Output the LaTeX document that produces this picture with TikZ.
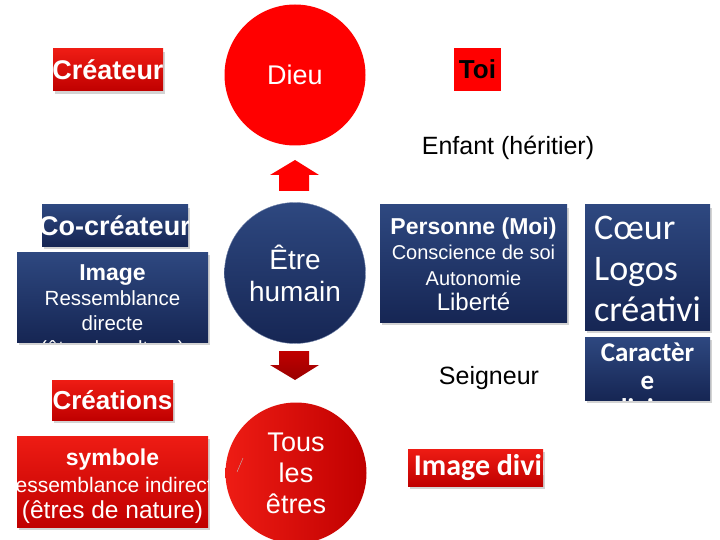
\documentclass[tikz,border=0pt]{standalone}
\usepackage{fontspec}
\setmainfont{Liberation Sans}
\newfontfamily\calib{Carlito}
\usepackage{xcolor}
\usetikzlibrary{shadows}

\definecolor{vivred}{RGB}{255,0,0}
\definecolor{redlight}{RGB}{238,28,20}
\definecolor{reddark}{RGB}{192,0,0}
\definecolor{navylight}{RGB}{46,72,128}
\definecolor{navydark}{RGB}{22,38,84}

\tikzset{
	redbox/.style={rectangle, inner sep=0pt, top color=redlight, bottom color=reddark,
		drop shadow={shadow xshift=2pt, shadow yshift=-3pt, opacity=.35}},
	navybox/.style={rectangle, inner sep=0pt, top color=navylight, bottom color=navydark,
		drop shadow={shadow xshift=2pt, shadow yshift=-3pt, opacity=.35}},
	boxlabel/.style={text=white, align=center, inner sep=0pt},
	bigdisc/.style={circle, inner sep=0pt, minimum size=141pt, text=white, align=center},
	plaintext/.style={font=\fontsize{25}{29}\selectfont}
}

\begin{document}
\begin{tikzpicture}[x=1pt, y=-1pt]
		\useasboundingbox (0,0) rectangle (720,540);
		
		% ligne du haut
		\node[redbox, minimum width=110pt, minimum height=42pt] (createur) at (108,70) {};
		\begin{scope}
			\clip (createur.south west) rectangle (createur.north east);
			\node[boxlabel, font=\fontsize{27}{30}\selectfont\bfseries] (createurtxt) at (createur) {Créateur};
		\end{scope}
		\node[bigdisc, fill=vivred, font=\fontsize{27}{30}\selectfont] (dieu) at (295,75) {Dieu};
		\node[rectangle, fill=vivred, minimum width=47pt, minimum height=43pt,
			font=\fontsize{26}{30}\selectfont\bfseries] (toi) at (477.5,69.5) {Toi};
		\node[plaintext] (enfant) at (508,148) {Enfant (héritier)};
		
		\fill[vivred] (270,175) -- (295,160) -- (319,175) -- (309,175) -- (309,191) -- (279,191) -- (279,175) -- cycle;
		
		% ligne du milieu
		\node[navybox, minimum width=146pt, minimum height=41pt] (cocreateur) at (115,225.5) {};
		\begin{scope}
			\clip (cocreateur.south west) rectangle (cocreateur.north east);
			\node[boxlabel, font=\fontsize{27}{30}\selectfont\bfseries] (cocreateurtxt) at (cocreateur) {Co-créateur};
		\end{scope}
		\node[navybox, minimum width=191pt, minimum height=90pt] (image) at (112.5,297) {};
		\begin{scope}
			\clip (image.south west) rectangle (image.north east);
			\node[boxlabel, font=\fontsize{20.5}{25}\selectfont, yshift=-15pt] (imagetxt) at (image)
				{\bfseries\fontsize{23}{25}\selectfont Image\\ Ressemblance\\ directe\\ (être de culture)};
		\end{scope}
		\node[bigdisc, top color=navylight, bottom color=navydark, draw=navylight!70,
			font=\fontsize{28}{32}\selectfont] (humain) at (295,273) {Être\\ humain};
		\node[navybox, minimum width=187pt, minimum height=117pt] (personne) at (473.5,263.5) {};
		\begin{scope}
			\clip (personne.south west) rectangle (personne.north east);
			\node[boxlabel, font=\fontsize{20}{25.5}\selectfont, yshift=-1pt] (personnetxt) at (personne)
				{\bfseries\fontsize{23}{25.5}\selectfont Personne (Moi)\\ Conscience de soi\\ Autonomie\\
				\fontsize{24}{25.5}\selectfont Liberté};
		\end{scope}
		\node[navybox, minimum width=125pt, minimum height=125pt] (coeur) at (647.5,267.5) {};
		\begin{scope}
			\clip (coeur.south west) rectangle (coeur.north east);
			\node[boxlabel, align=left, font=\calib\fontsize{36}{41}\selectfont, yshift=-22pt] (coeurtxt) at (coeur)
				{Cœur\\ Logos\\ créativi\\ té};
		\end{scope}
		\node[navybox, minimum width=125pt, minimum height=63pt] (caractere) at (647.5,368.5) {};
		\begin{scope}
			\clip (caractere.south west) rectangle (caractere.north east);
			\node[boxlabel, font=\calib\fontsize{27}{28}\selectfont\bfseries, yshift=-12pt] (caracteretxt) at (caractere)
				{Caractèr\\ e\\ divine};
		\end{scope}
		\node[plaintext] (seigneur) at (489,378) {Seigneur};
		
		\shade[top color=reddark, bottom color=reddark!80!black] (270,365) -- (279,365) -- (279,351) -- (309,351) -- (309,365) -- (319,365) -- (295,380) -- cycle;
		
		% ligne du bas
		\node[redbox, minimum width=121pt, minimum height=40pt] (creations) at (112.5,400) {};
		\begin{scope}
			\clip (creations.south west) rectangle (creations.north east);
			\node[boxlabel, font=\fontsize{26}{30}\selectfont\bfseries] (creationstxt) at (creations) {Créations};
		\end{scope}
		\node[redbox, minimum width=191pt, minimum height=91pt] (symbole) at (112.5,481.5) {};
		\begin{scope}
			\clip (symbole.south west) rectangle (symbole.north east);
			\node[boxlabel, font=\fontsize{21}{26.5}\selectfont, yshift=-5pt] (symboletxt) at (symbole)
				{\bfseries\fontsize{23}{26.5}\selectfont symbole\\ Ressemblance indirecte\\
				\fontsize{24.5}{26.5}\selectfont (êtres de nature)};
		\end{scope}
		\node[bigdisc, left color=redlight, right color=reddark,
			font=\fontsize{27}{31}\selectfont] (tous) at (296,473) {Tous\\ les\\ êtres};
		\draw[gray!50, thin] (237,472) -- (243,458);
		\node[redbox, minimum width=135pt, minimum height=37pt] (imagedivine) at (475.5,467.5) {};
		\begin{scope}
			\clip (imagedivine.south west) rectangle (imagedivine.north east);
			\node[boxlabel, font=\calib\fontsize{30}{32}\selectfont\bfseries, xshift=18pt] (imagedivinetxt) at (imagedivine) {Image divine};
		\end{scope}
		
	\end{tikzpicture}
\end{document}
